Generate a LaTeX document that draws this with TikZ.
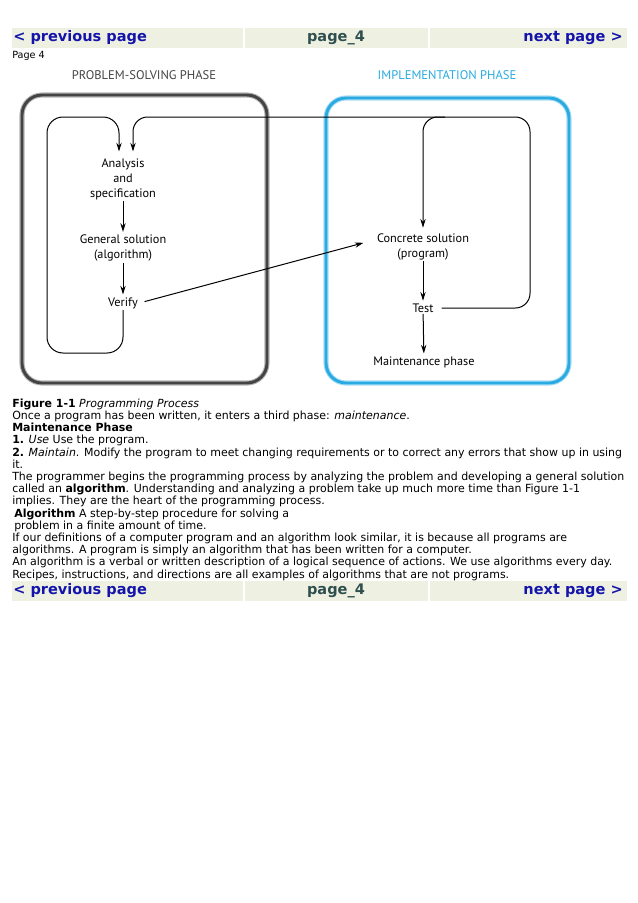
\documentclass[tikz,border=0pt]{standalone}
\usepackage{fontspec}
\setmainfont{DejaVu Sans}
\newfontfamily\bodyfont{DejaVu Sans}[FakeStretch=0.98]
\newfontfamily\navfont{DejaVu Sans}
\newfontfamily\figfont{PT Sans}
\usetikzlibrary{arrows.meta}

\definecolor{navbg}{RGB}{238,241,226}
\definecolor{navblue}{RGB}{20,20,170}
\definecolor{navgray}{RGB}{47,79,79}
\definecolor{implblue}{RGB}{41,171,226}
\definecolor{implglow}{RGB}{170,220,244}
\definecolor{psgray}{RGB}{68,68,68}

\tikzset{
  navtext/.style={font=\navfont\bfseries\fontsize{10.9}{12}\selectfont, inner sep=0pt},
  lbl/.style={font=\figfont\fontsize{9.2}{11.25}\selectfont, align=center, inner sep=1pt},
  phase/.style={font=\figfont\fontsize{9.4}{11}\selectfont, inner sep=0pt},
  flow/.style={->, line width=0.75pt, shorten >=1pt},
}

\begin{document}
\begin{tikzpicture}[x=0.75pt,y=-0.75pt,>={Stealth[length=6.5pt,width=4pt]}]
  \useasboundingbox[fill=white] (0,0) rectangle (638,903);

  % navigation bars
  \foreach \y in {28,581} {
    \fill[navbg] (12,\y) rectangle (243,\y+20);
    \fill[navbg] (245,\y) rectangle (428,\y+20);
    \fill[navbg] (430,\y) rectangle (627,\y+20);
  }
  \node[navtext, navblue, anchor=west] (prevtop) at (13,38) {< previous page};
  \node[navtext, navgray] (pagetop) at (336,38) {page\_4};
  \node[navtext, navblue, anchor=east] (nexttop) at (623,38) {next page >};
  \node[navtext, navblue, anchor=west] (prevbot) at (13,591) {< previous page};
  \node[navtext, navgray] (pagebot) at (336,591) {page\_4};
  \node[navtext, navblue, anchor=east] (nextbot) at (623,591) {next page >};

  \node[anchor=west, inner sep=0pt, font=\bodyfont\fontsize{7.4}{9}\selectfont] (pageno) at (12,56) {Page 4};

  % phase boxes
  \draw[line width=3.8pt, psgray!40, rounded corners=15pt] (22,95) rectangle (267,383);
  \draw[line width=2.2pt, psgray, rounded corners=15pt] (22,95) rectangle (267,383);
  \draw[line width=3.8pt, implglow, rounded corners=15pt] (326,98) rectangle (569,383);
  \draw[line width=2.2pt, implblue, rounded corners=15pt] (326,98) rectangle (569,383);

  \node[phase, psgray] (pstitle) at (144,75) {PROBLEM-SOLVING PHASE};
  \node[phase, implblue] (imtitle) at (447,75) {IMPLEMENTATION PHASE};

  % steps
  \node[lbl] (analysis) at (123,179) {Analysis\\and\\specification};
  \node[lbl] (general) at (123,248) {General solution\\(algorithm)};
  \node[lbl] (verify) at (123,303) {Verify};
  \node[lbl] (concrete) at (423,246.5) {Concrete solution\\(program)};
  \node[lbl] (test) at (423,308) {Test};
  \node[lbl] (maint) at (424,362) {Maintenance phase};

  \coordinate (inL) at ([xshift=-3pt,yshift=3pt]analysis.north);
  \coordinate (inR) at ([xshift=7.5pt,yshift=3pt]analysis.north);

  \draw[flow] (analysis) -- (general);
  \draw[flow] (general) -- (verify);
  \draw[flow] (concrete) -- (test);
  \draw[flow] (test) -- (maint);
  \draw[flow, shorten <=4pt] (verify.east) -- ([xshift=-8pt,yshift=3pt]concrete.west);

  % loops
  \draw[flow, rounded corners=12pt] (verify.south) |- (47,353) |- (inL |- 0,117) -- (inL);
  \draw[flow, rounded corners=11pt] ([xshift=5pt]test.east) -| (530,117) -| (inR);
  \draw[flow, rounded corners=11pt] (445,117) -| ([yshift=2pt]concrete.north);

  % text below the figure
  \node[anchor=north west, inner sep=0pt, align=left,
        font=\bodyfont\fontsize{8.4}{9.15}\selectfont] (body) at (12,398.5) {%
    \textbf{Figure 1-1} \textit{Programming Process}\\
    Once a program has been written, it enters a third phase: \textit{maintenance}.\\
    \textbf{Maintenance Phase}\\
    \textbf{1.} \textit{Use} Use the program.\\
    \textbf{2.} \textit{Maintain}. Modify the program to meet changing requirements or to correct any errors that show up in using\\
    it.\\
    The programmer begins the programming process by analyzing the problem and developing a general solution\\
    called an \textbf{algorithm}. Understanding and analyzing a problem take up much more time than Figure 1-1\\
    implies. They are the heart of the programming process.\\
    \hspace*{1.5pt}\textbf{Algorithm} A step-by-step procedure for solving a\\
    \hspace*{1.5pt}problem in a finite amount of time.\\
    If our definitions of a computer program and an algorithm look similar, it is because all programs are\\
    algorithms. A program is simply an algorithm that has been written for a computer.\\
    An algorithm is a verbal or written description of a logical sequence of actions. We use algorithms every day.\\
    Recipes, instructions, and directions are all examples of algorithms that are not programs.};
\end{tikzpicture}
\end{document}
